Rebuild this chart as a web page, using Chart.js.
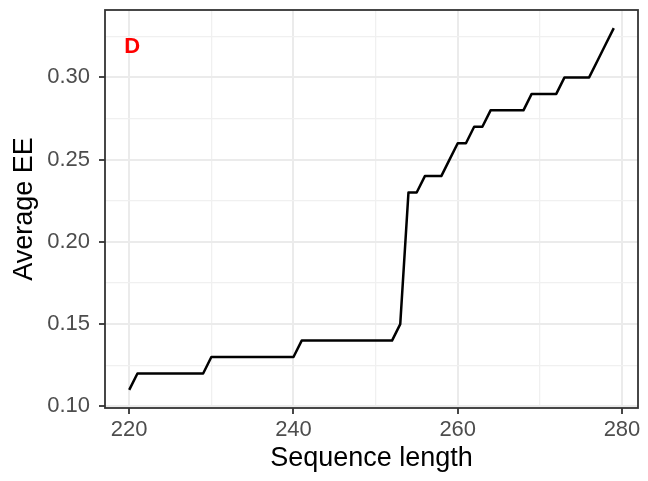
<!DOCTYPE html>
<html>
<head>
<meta charset="utf-8">
<title>Average EE by sequence length</title>
<script src="https://cdn.jsdelivr.net/npm/chart.js@4/dist/chart.umd.min.js"></script>
<style>
  html, body { margin: 0; padding: 0; background: #ffffff; }
  #wrap { width: 648px; height: 481px; }
</style>
</head>
<body>
<div id="wrap"><canvas id="chart" width="648" height="481"></canvas></div>
<script>
// Sequence lengths and the average EE reached at each length
const seqLength = [
  220, 221, 222, 223, 224, 225, 226, 227, 228, 229,
  230, 231, 232, 233, 234, 235, 236, 237, 238, 239,
  240, 241, 242, 243, 244, 245, 246, 247, 248, 249,
  250, 251, 252, 253, 254, 255, 256, 257, 258, 259,
  260, 261, 262, 263, 264, 265, 266, 267, 268, 269,
  270, 271, 272, 273, 274, 275, 276, 277, 278, 279
];
const avgEE = [
  0.11, 0.12, 0.12, 0.12, 0.12, 0.12, 0.12, 0.12, 0.12, 0.12,
  0.13, 0.13, 0.13, 0.13, 0.13, 0.13, 0.13, 0.13, 0.13, 0.13,
  0.13, 0.14, 0.14, 0.14, 0.14, 0.14, 0.14, 0.14, 0.14, 0.14,
  0.14, 0.14, 0.14, 0.15, 0.23, 0.23, 0.24, 0.24, 0.24, 0.25,
  0.26, 0.26, 0.27, 0.27, 0.28, 0.28, 0.28, 0.28, 0.28, 0.29,
  0.29, 0.29, 0.29, 0.30, 0.30, 0.30, 0.30, 0.31, 0.32, 0.33
];

// Axis breaks
const xMajorTicks = [220, 240, 260, 280];
const xMinorTicks = [230, 250, 270];
const yMajorTicks = [0.10, 0.15, 0.20, 0.25, 0.30];
const yMinorTicks = [0.125, 0.175, 0.225, 0.275, 0.325];

// Panel tag and where it sits, in data units
const panelTag = 'D';
const panelTagX = 220.35;
const panelTagY = 0.3185;

const FONT = "'Liberation Sans', Arial, Helvetica, sans-serif";
const isNear = (a, b) => Math.abs(a - b) < 1e-9;
const inList = (list, v) => list.some(t => isNear(t, v));

// Padded ranges around the data
const xSpan = seqLength[seqLength.length - 1] - seqLength[0];
const yMin = Math.min(...avgEE), yMax = Math.max(...avgEE);
const ySpan = yMax - yMin;

const points = seqLength.map((x, i) => ({ x: x, y: avgEE[i] }));

function tickSetter(major, minor) {
  return scale => {
    scale.ticks = [...major, ...minor].sort((a, b) => a - b).map(v => ({ value: v }));
  };
}

function gridOpts(major) {
  return {
    drawOnChartArea: true,
    drawTicks: true,
    tickLength: 6,
    tickWidth: 1.8,
    color: ctx => (ctx.tick && inList(major, ctx.tick.value)) ? '#EBEBEB' : '#F0F0F0',
    lineWidth: ctx => (ctx.tick && inList(major, ctx.tick.value)) ? 2 : 1.3,
    tickColor: ctx => (ctx.tick && inList(major, ctx.tick.value)) ? '#333333' : 'rgba(0,0,0,0)'
  };
}

// Fixed axis sizes; no extra room reserved for end labels
function fitX(s) {
  s.height = 73;
  s.paddingLeft = 0; s.paddingRight = 0; s.paddingTop = 0; s.paddingBottom = 0;
}
function fitY(s) {
  s.width = 105;
  s.paddingLeft = 0; s.paddingRight = 0; s.paddingTop = 0; s.paddingBottom = 0;
}

// Panel border on top of the series, plus the panel tag
const panelDecor = {
  id: 'panelDecor',
  afterDatasetsDraw(chart) {
    const { ctx, chartArea: a, scales } = chart;
    ctx.save();
    ctx.strokeStyle = '#333333';
    ctx.lineWidth = 1.8;
    ctx.strokeRect(a.left, a.top, a.right - a.left, a.bottom - a.top);
    ctx.fillStyle = '#FF0000';
    ctx.font = 'bold 22px ' + FONT;
    ctx.textAlign = 'center';
    ctx.textBaseline = 'middle';
    ctx.fillText(panelTag, scales.x.getPixelForValue(panelTagX), scales.y.getPixelForValue(panelTagY));
    ctx.restore();
  }
};

new Chart(document.getElementById('chart'), {
  type: 'line',
  data: {
    datasets: [{
      data: points,
      borderColor: '#000000',
      borderWidth: 2.5,
      borderJoinStyle: 'round',
      borderCapStyle: 'butt',
      pointRadius: 0,
      pointHoverRadius: 0,
      tension: 0,
      fill: false
    }]
  },
  options: {
    responsive: false,
    animation: false,
    devicePixelRatio: 1,
    layout: { padding: { top: 10, right: 10, left: 0, bottom: 0 } },
    plugins: {
      legend: { display: false },
      tooltip: { enabled: false }
    },
    scales: {
      x: {
        type: 'linear',
        position: 'bottom',
        min: seqLength[0] - 0.05 * xSpan,
        max: seqLength[seqLength.length - 1] + 0.05 * xSpan,
        afterBuildTicks: tickSetter(xMajorTicks, xMinorTicks),
        afterFit: fitX,
        border: { display: false },
        grid: gridOpts(xMajorTicks),
        ticks: {
          autoSkip: false,
          maxRotation: 0,
          padding: 3,
          color: '#4D4D4D',
          font: { family: FONT, size: 22 },
          callback: v => inList(xMajorTicks, v) ? String(v) : ''
        },
        title: {
          display: true,
          text: 'Sequence length',
          color: '#000000',
          font: { family: FONT, size: 27 },
          padding: { top: 0, bottom: 6 }
        }
      },
      y: {
        type: 'linear',
        position: 'left',
        min: yMin - 0.05 * ySpan,
        max: yMax + 0.05 * ySpan,
        afterBuildTicks: tickSetter(yMajorTicks, yMinorTicks),
        afterFit: fitY,
        border: { display: false },
        grid: gridOpts(yMajorTicks),
        ticks: {
          autoSkip: false,
          padding: 9,
          color: '#4D4D4D',
          font: { family: FONT, size: 22 },
          callback: v => inList(yMajorTicks, v) ? v.toFixed(2) : ''
        },
        title: {
          display: true,
          text: 'Average EE',
          color: '#000000',
          font: { family: FONT, size: 27 },
          padding: { top: 8, bottom: 0 }
        }
      }
    }
  },
  plugins: [panelDecor]
});
</script>
</body>
</html>
